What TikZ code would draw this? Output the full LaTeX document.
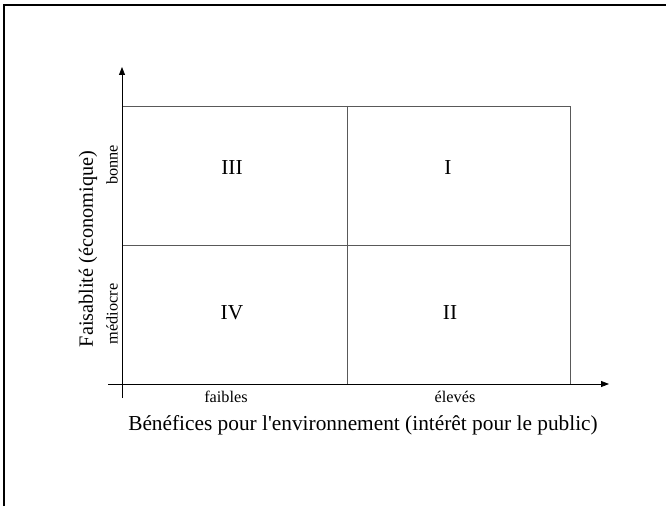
\documentclass[tikz,border=0pt]{standalone}
\usepackage{fontspec}
\setmainfont{Liberation Serif}
\usetikzlibrary{arrows.meta}

\tikzset{
    axis/.style={semithick, -{Triangle[length=6pt, width=4.5pt]}},
    grid/.style={draw=black!65, thin},
    numeral/.style={font=\fontsize{16}{18}\selectfont},
    tick/.style={font=\fontsize{12.2}{14}\selectfont},
    title/.style={font=\fontsize{16}{18}\selectfont}
}

\begin{document}
\begin{tikzpicture}[x=0.75pt, y=-0.75pt]
            \useasboundingbox (0, 0) rectangle (666, 506);
            % frame
            \draw[line width=1.6pt] (4, 506) -- (4, 5) -- (666, 5);
            % quadrants
            \coordinate (nw) at (122, 106);
            \coordinate (se) at (570, 384);
            \coordinate (n) at (347, 106);
            \coordinate (s) at (347, 384);
            \coordinate (w) at (122, 245);
            \coordinate (e) at (570, 245);
            \draw[grid] (nw) rectangle (se);
            \draw[grid] (n) -- (s);
            \draw[grid] (w) -- (e);
            % axes
            \coordinate (x0) at (108, 384);
            \coordinate (x1) at (609, 384);
            \coordinate (y0) at (122, 398);
            \coordinate (y1) at (122, 67);
            \draw[axis] (x0) -- (x1);
            \draw[axis] (y0) -- (y1);
            \node[numeral] (III) at (232, 168) {III};
            \node[numeral] (I) at (448, 168) {I};
            \node[numeral] (IV) at (232, 313) {IV};
            \node[numeral] (II) at (450, 313) {II};
            \node[tick] (low) at (226, 397) {faibles};
            \node[tick] (high) at (455, 397) {élevés};
            \node[tick, rotate=90] (good) at (112, 165) {bonne};
            \node[tick, rotate=90] (poor) at (112, 314) {médiocre};
            \node[title] (xlabel) at (363, 425) {Bénéfices pour l\textquotesingle environnement (intérêt pour le public)};
            \node[title, rotate=90, font=\fontsize{15.2}{18}\selectfont] (ylabel) at (88, 249) {Faisablité (économique)};
        \end{tikzpicture}
\end{document}
